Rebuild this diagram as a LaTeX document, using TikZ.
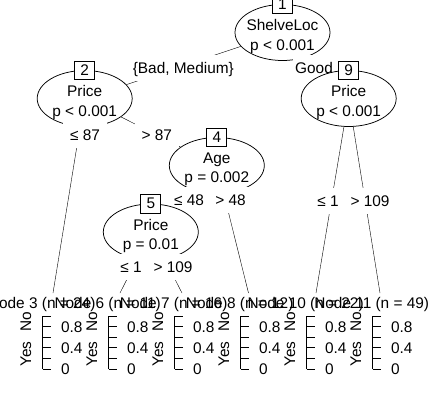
\documentclass[tikz,border=0pt]{standalone}
\usepackage{fontspec}
\setmainfont{Liberation Sans}
\usetikzlibrary{shapes.geometric, backgrounds}

\begin{document}
\begin{tikzpicture}[
x=1pt, y=-1pt,
line width=0.75pt,
every node/.style={font=\fontsize{15.4}{19.5}\selectfont},
inner/.style={draw, 
ellipse, 
fill=white, 
inner sep=0pt, 
minimum width=95pt, 
minimum height=56pt},
idbox/.style={draw, 
rectangle, 
fill=white, 
inner sep=0pt, 
minimum width=20pt, 
minimum height=18.5pt},
ntext/.style={align=center, inner sep=0pt},
elabel/.style={fill=white, 
inner xsep=7pt, 
inner ysep=0pt, 
text height=11pt, 
text depth=0pt, 
minimum height=26pt},
level/.style={rotate=90, inner sep=0pt, text height=11pt, text depth=0pt},
ticklab/.style={anchor=west, inner sep=0pt, text height=11pt, text depth=0pt}
]
\useasboundingbox (0,0) rectangle (434,418);

% inner nodes
\node[inner] (n1) at (282.5,32.5) {};
\node[ntext] (t1) at (282.5,36.5) {ShelveLoc\\p < 0.001};
\node[idbox] (id1) at (n1.north) {1};
\node[elabel, inner xsep=2pt] (l12) at (183.3,68.3) {\{Bad, Medium\}};
\node[elabel, inner xsep=2pt] (l19) at (314,68) {Good};

\node[inner] (n2) at (84.7,98.5) {};
\node[ntext] (t2) at (84.7,102.5) {Price\\p < 0.001};
\node[idbox] (id2) at (n2.north) {2};
\node[elabel] (l23) at (85,135) {≤ 87};
\node[elabel] (l24) at (156.7,135) {> 87};

\node[inner] (n9) at (348.7,98.5) {};
\node[ntext] (t9) at (348.7,102.5) {Price\\p < 0.001};
\node[idbox] (id9) at (n9.north) {9};
\node[elabel] (l910) at (328,201) {≤ 1};
\node[elabel] (l911) at (370,201) {> 109};

\node[inner] (n4) at (216.8,165.5) {};
\node[ntext] (t4) at (216.8,169.5) {Age\\p = 0.002};
\node[idbox] (id4) at (n4.north) {4};
\node[elabel] (l45) at (189,200) {≤ 48};
\node[elabel] (l48) at (230.5,200) {> 48};

\node[inner] (n5) at (150.8,232) {};
\node[ntext] (t5) at (150.8,236) {Price\\p = 0.01};
\node[idbox] (id5) at (n5.north) {5};
\node[elabel] (l56) at (131,266.7) {≤ 1};
\node[elabel] (l57) at (173,266.7) {> 109};

% terminal nodes
\foreach \k/\id/\n/\tx in {0/3/24/53, 1/6/11/120, 2/7/16/182, 3/8/12/248.5, 4/10/22/316, 5/11/49/380} {
\coordinate (top\id) at (\tx,293);
\node[anchor=base, inner sep=0pt] (head\id) at (41.7+66*\k,308.7) {Node \id\ (n = \n)};
\node[level] (no\id) at (25.5+66*\k,322) {No};
\node[level] (yes\id) at (25.5+66*\k,354) {Yes};
\draw (42.7+66*\k,316) -- (42.7+66*\k,369);
\foreach \t in {316,326.6,337.2,347.8,358.4,369}
  \draw (42.7+66*\k,\t) -- ++(8,0);
\node[ticklab] (ya\id) at (60.7+66*\k,326.6) {0.8};
\node[ticklab] (yb\id) at (60.7+66*\k,347.8) {0.4};
\node[ticklab] (yc\id) at (60.7+66*\k,369) {0};
}

\begin{scope}[on background layer]
\draw (n1) -- (n2);
\draw (n1) -- (n9);
\draw (n2) -- (top3);
\draw (n2) -- (n4);
\draw (n4) -- (n5);
\draw (n4) -- (top8);
\draw (n5) -- (top6);
\draw (n5) -- (top7);
\draw (n9) -- (top10);
\draw (n9) -- (top11);
\end{scope}

\end{tikzpicture}
\end{document}
